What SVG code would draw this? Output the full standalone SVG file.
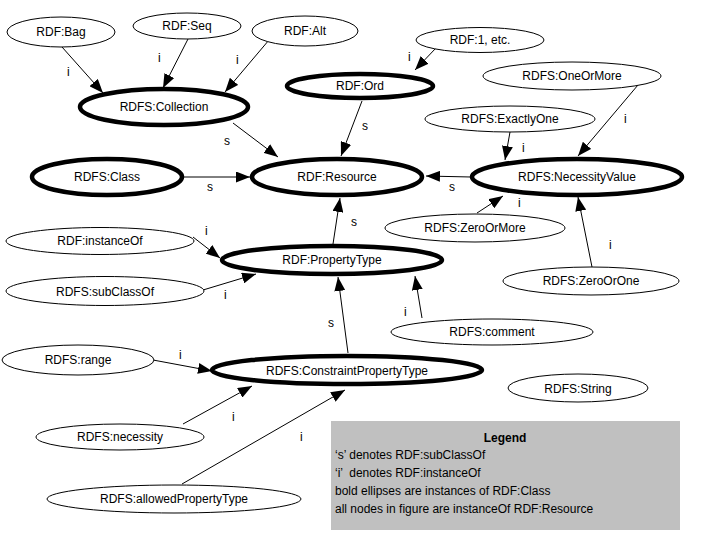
<svg xmlns="http://www.w3.org/2000/svg" width="708" height="540" viewBox="0 0 708 540">
<style>
text{font-family:"Liberation Sans",Arial,sans-serif;font-size:12px;fill:#000}
.n text{text-anchor:middle}
.thin{fill:#fff;stroke:#000;stroke-width:1}
.bold{fill:#fff;stroke:#000;stroke-width:4.5}
.e line{stroke:#000;stroke-width:1;marker-end:url(#ah)}
.lg{fill:#c0c0c0;stroke:none}
</style>
<defs>
<marker id="ah" markerUnits="userSpaceOnUse" markerWidth="14" markerHeight="11" refX="14" refY="5.5" orient="auto">
<path d="M0,0 L14,5.5 L0,11 z" fill="#000"/>
</marker>
</defs>
<rect width="708" height="540" fill="#fff"/>
<g id="edges" class="e">
<line x1="62" y1="47" x2="103" y2="93"/>
<line x1="188" y1="39" x2="163" y2="88"/>
<line x1="269" y1="40" x2="225" y2="92"/>
<line x1="233" y1="123" x2="278" y2="157"/>
<line x1="362" y1="101" x2="341" y2="156"/>
<line x1="436" y1="48" x2="415" y2="70"/>
<line x1="638" y1="85" x2="578" y2="156"/>
<line x1="510" y1="132" x2="505" y2="160"/>
<line x1="471" y1="177" x2="426" y2="176"/>
<line x1="183" y1="177" x2="250" y2="177"/>
<line x1="477" y1="213" x2="503" y2="196"/>
<line x1="592" y1="267" x2="578" y2="197"/>
<line x1="333" y1="244" x2="340" y2="198"/>
<line x1="193" y1="237" x2="220" y2="258"/>
<line x1="203" y1="290" x2="256" y2="274"/>
<line x1="348" y1="353" x2="338" y2="277"/>
<line x1="422" y1="318" x2="415" y2="276"/>
<line x1="153" y1="360" x2="212" y2="371"/>
<line x1="183" y1="424" x2="252" y2="386"/>
<line x1="182" y1="484" x2="345" y2="390"/>
</g>
<g id="edge-labels">
<text x="67" y="76">i</text>
<text x="158" y="62">i</text>
<text x="236" y="64">i</text>
<text x="224" y="145">s</text>
<text x="362" y="130">s</text>
<text x="408" y="61">i</text>
<text x="624" y="123">i</text>
<text x="522" y="152">i</text>
<text x="449" y="191">s</text>
<text x="207" y="191">s</text>
<text x="518" y="207">i</text>
<text x="609" y="249">i</text>
<text x="351" y="226">s</text>
<text x="205" y="235">i</text>
<text x="224" y="299">i</text>
<text x="328" y="327">s</text>
<text x="404" y="316">i</text>
<text x="179" y="359">i</text>
<text x="232" y="421">i</text>
<text x="300" y="441">i</text>
</g>
<g id="n-bag" class="n"><ellipse class="thin" cx="61" cy="32" rx="54" ry="15"/><text x="61" y="36">RDF:Bag</text></g>
<g id="n-seq" class="n"><ellipse class="thin" cx="187" cy="26" rx="54" ry="13"/><text x="187" y="30">RDF:Seq</text></g>
<g id="n-alt" class="n"><ellipse class="thin" cx="305" cy="31" rx="53" ry="15"/><text x="305" y="35">RDF:Alt</text></g>
<g id="n-collection" class="n"><ellipse class="bold" cx="164" cy="107" rx="84" ry="18"/><text x="164" y="111">RDFS:Collection</text></g>
<g id="n-ord" class="n"><ellipse class="bold" cx="360" cy="86" rx="73" ry="12"/><text x="360" y="90">RDF:Ord</text></g>
<g id="n-1etc" class="n"><ellipse class="thin" cx="480" cy="40" rx="64" ry="12.5"/><text x="480" y="44">RDF:1, etc.</text></g>
<g id="n-oneormore" class="n"><ellipse class="thin" cx="572" cy="76" rx="89" ry="14"/><text x="572" y="80">RDFS:OneOrMore</text></g>
<g id="n-exactlyone" class="n"><ellipse class="thin" cx="510" cy="119" rx="85" ry="13"/><text x="510" y="123">RDFS:ExactlyOne</text></g>
<g id="n-class" class="n"><ellipse class="bold" cx="107" cy="177" rx="75" ry="18"/><text x="107" y="181">RDFS:Class</text></g>
<g id="n-resource" class="n"><ellipse class="bold" cx="337" cy="177" rx="85" ry="18"/><text x="337" y="181">RDF:Resource</text></g>
<g id="n-necessityvalue" class="n"><ellipse class="bold" cx="577" cy="177" rx="105" ry="18"/><text x="577" y="181">RDFS:NecessityValue</text></g>
<g id="n-zeroormore" class="n"><ellipse class="thin" cx="475" cy="228" rx="90" ry="14"/><text x="475" y="232">RDFS:ZeroOrMore</text></g>
<g id="n-zeroorone" class="n"><ellipse class="thin" cx="591" cy="281" rx="88" ry="14"/><text x="591" y="285">RDFS:ZeroOrOne</text></g>
<g id="n-instanceof" class="n"><ellipse class="thin" cx="100" cy="241" rx="94" ry="13.5"/><text x="100" y="245">RDF:instanceOf</text></g>
<g id="n-propertytype" class="n"><ellipse class="bold" cx="332" cy="260" rx="110" ry="14"/><text x="332" y="264">RDF:PropertyType</text></g>
<g id="n-subclassof" class="n"><ellipse class="thin" cx="105" cy="291" rx="99" ry="14.5"/><text x="105" y="296">RDFS:subClassOf</text></g>
<g id="n-comment" class="n"><ellipse class="thin" cx="492" cy="332" rx="101" ry="13"/><text x="492" y="336">RDFS:comment</text></g>
<g id="n-range" class="n"><ellipse class="thin" cx="78" cy="360" rx="76" ry="15"/><text x="78" y="364">RDFS:range</text></g>
<g id="n-constraintpropertytype" class="n"><ellipse class="bold" cx="347" cy="370" rx="135" ry="14"/><text x="347" y="375">RDFS:ConstraintPropertyType</text></g>
<g id="n-string" class="n"><ellipse class="thin" cx="578" cy="388" rx="70" ry="14"/><text x="578" y="393">RDFS:String</text></g>
<g id="n-necessity" class="n"><ellipse class="thin" cx="120" cy="437" rx="84" ry="13"/><text x="120" y="441">RDFS:necessity</text></g>
<g id="n-allowedpropertytype" class="n"><ellipse class="thin" cx="174" cy="499" rx="127" ry="14"/><text x="174" y="503">RDFS:allowedPropertyType</text></g>
<g id="legend">
<rect class="lg" x="331" y="421" width="349" height="109"/>
<text x="505" y="442" text-anchor="middle" font-weight="bold">Legend</text>
<text x="335" y="459">‘s’ denotes RDF:subClassOf</text>
<text x="335" y="477" xml:space="preserve">‘i’  denotes RDF:instanceOf</text>
<text x="335" y="495">bold ellipses are instances of RDF:Class</text>
<text x="335" y="513">all nodes in figure are instanceOf RDF:Resource</text>
</g>
</svg>
